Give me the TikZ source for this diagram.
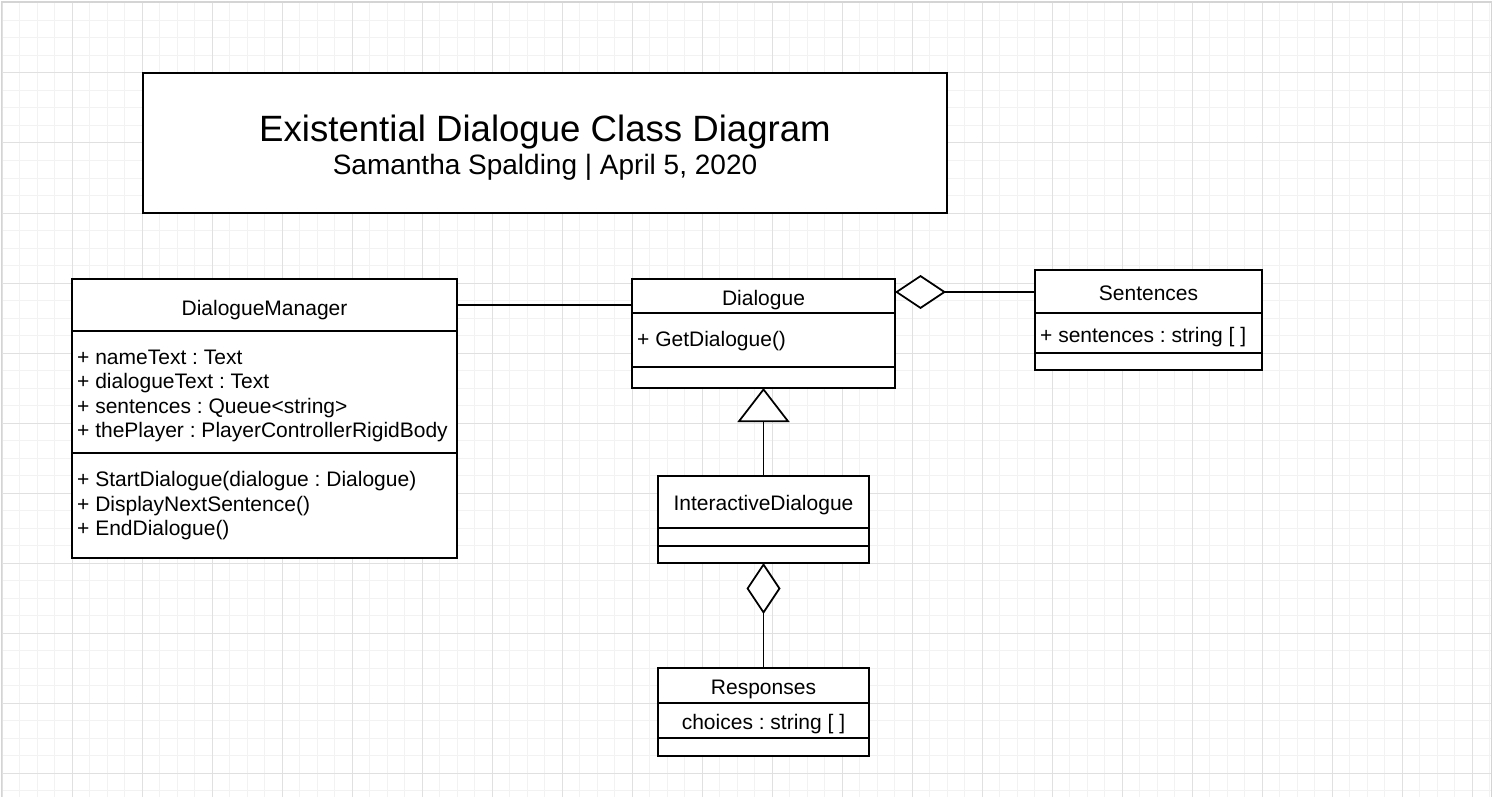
\documentclass[tikz,border=0pt]{standalone}
\usepackage{fontspec}
\setmainfont{Liberation Sans}
\usetikzlibrary{arrows.meta}
\definecolor{gridminor}{HTML}{F2F2F2}
\definecolor{gridmajor}{HTML}{E0E0E0}
\definecolor{edgegray}{HTML}{D4D4D4}
\tikzset{
  classbox/.style={draw=black, line width=1.75pt, fill=white, rectangle, inner sep=0pt, outer sep=0pt, anchor=north west},
  divider/.style={line width=1.75pt},
  conn/.style={line width=1.75pt},
  body/.style={font=\fontsize{21}{24.5}\selectfont, inner sep=0pt},
  cname/.style={body, anchor=base},
  member/.style={body, anchor=base west},
}
\frenchspacing
\begin{document}
\begin{tikzpicture}[x=1pt, y=-1pt]
\useasboundingbox (0,0) rectangle (1494,797);
\fill[white] (0,0) rectangle (1494,797);
% grid
\foreach \i in {0,...,85} {
  \draw[gridminor, line width=1pt] ({2+17.5*\i},3) -- ({2+17.5*\i},797);
}
\foreach \j in {0,...,45} {
  \draw[gridminor, line width=1pt] (2,{3+17.5*\j}) -- (1491,{3+17.5*\j});
}
\foreach \i in {0,...,21} {
  \draw[gridmajor, line width=1pt] ({2+70*\i},3) -- ({2+70*\i},797);
}
\foreach \j in {0,...,11} {
  \draw[gridmajor, line width=1pt] (2,{3+70*\j}) -- (1491,{3+70*\j});
}
\draw[edgegray, line width=1.5pt] (1.5,797) -- (1.5,2) -- (1491.5,2) -- (1491.5,797);

% title
\node[draw=black, line width=1.75pt, fill=white, minimum width=804pt, minimum height=140pt, inner sep=0pt, outer sep=0pt] (title) at (545,143) {};
\node[font=\fontsize{36.6}{40}\selectfont, inner sep=0pt, anchor=base] (titletext) at (545,141.5) {Existential Dialogue Class Diagram};
\node[font=\fontsize{28}{32}\selectfont, inner sep=0pt, anchor=base] (subtitle) at (545,175) {Samantha Spalding | April 5, 2020};

% DialogueManager
\node[classbox, minimum width=385pt, minimum height=279pt] (dm) at (72,279) {};
\draw[divider] (72,331) -- (457,331);
\draw[divider] (72,453) -- (457,453);
\node[cname] (dmname) at (264.5,315) {DialogueManager};
\node[member] (dma1) at (77,364.3) {+ nameText : Text};
\node[member] (dma2) at (77,388.8) {+ dialogueText : Text};
\node[member] (dma3) at (77,413.3) {+ sentences : Queue<string>};
\node[member] (dma4) at (77,437.8) {+ thePlayer : PlayerControllerRigidBody};
\node[member] (dmm1) at (77,486.7) {+ StartDialogue(dialogue : Dialogue)};
\node[member] (dmm2) at (77,511.2) {+ DisplayNextSentence()};
\node[member] (dmm3) at (77,535.7) {+ EndDialogue()};

% Dialogue
\node[classbox, minimum width=263pt, minimum height=109pt] (dlg) at (632,279) {};
\draw[divider] (632,313) -- (895,313);
\draw[divider] (632,367) -- (895,367);
\node[cname] (dlgname) at (763.5,305.7) {Dialogue};
\node[member] (dlgm1) at (637,346) {+ GetDialogue()};

% Sentences
\node[classbox, minimum width=227pt, minimum height=100pt] (sen) at (1035,270) {};
\draw[divider] (1035,313) -- (1262,313);
\draw[divider] (1035,353) -- (1262,353);
\node[cname] (senname) at (1148.5,300) {Sentences};
\node[member] (sena1) at (1040,342.3) {+ sentences : string [ ]};

% InteractiveDialogue
\node[classbox, minimum width=211pt, minimum height=87pt] (idl) at (658,476) {};
\draw[divider] (658,528) -- (869,528);
\draw[divider] (658,546) -- (869,546);
\node[cname] (idlname) at (763.5,510) {InteractiveDialogue};

% Responses
\node[classbox, minimum width=211pt, minimum height=88pt] (rsp) at (658,668) {};
\draw[divider] (658,703) -- (869,703);
\draw[divider] (658,738) -- (869,738);
\node[cname] (rspname) at (763.5,694.3) {Responses};
\node[cname] (rspa1) at (763.5,729.3) {choices : string [ ]};

% connectors
\draw[conn] ([yshift=-26pt]dm.north east) -- ([yshift=-26pt]dlg.north west);
\draw[conn, -{Diamond[open, fill=white, length=51pt, width=34pt]}] ([yshift=-22pt]sen.north west) -- ([yshift=-13pt]dlg.north east);
\draw[conn, -{Triangle[open, fill=white, length=34pt, width=52pt]}] (idl.north) -- (dlg.south);
\draw[conn, -{Diamond[open, fill=white, length=51pt, width=34pt]}] (rsp.north) -- (idl.south);
\end{tikzpicture}
\end{document}
